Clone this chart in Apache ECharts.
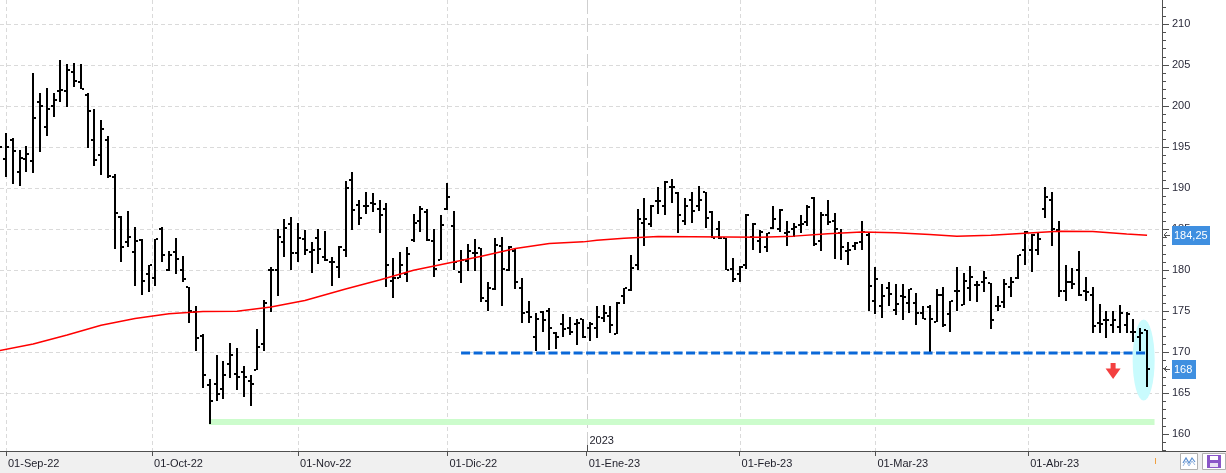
<!DOCTYPE html>
<html>
<head>
<meta charset="utf-8">
<script src="https://cdn.jsdelivr.net/npm/echarts@6.0.0/dist/echarts.min.js"></script>
<style>
html, body { margin: 0; padding: 0; background: #fff; }
#chart { width: 1226px; height: 473px; }
</style>
</head>
<body>
<div id="chart"></div>
<script>
// posicion de cada sesion: 0 = 31-Ago-22, 1 = 01-Sep-22 ... 169 = ultima sesion
var opens = [
  193.0, 193.5, 195.9, 192.0, 193.5, 193.3, 200.5, 197.4, 200.0, 201.8,
  201.8, 204.1, 202.9, 201.3, 195.9, 194.0, 195.9, 191.3, 186.5, 183.4,
  182.2, 183.7, 179.5, 179.1, 185.0, 180.0, 182.2, 180.0, 177.9, 174.9,
  172.0, 166.0, 166.1, 165.5, 168.6, 167.4, 167.6, 166.5, 167.8, 171.0,
  180.0, 180.0, 183.4, 185.6, 182.1, 183.8, 182.2, 183.9, 181.6, 181.0,
  180.4, 182.5, 191.0, 188.0, 187.8, 188.2, 187.4, 187.5, 178.7, 179.1,
  179.5, 183.7, 186.0, 187.1, 183.6, 181.3, 187.4, 185.4, 179.8, 181.1,
  182.1, 182.7, 176.3, 177.7, 183.0, 180.0, 182.3, 177.8, 174.9, 171.9,
  174.9, 175.0, 172.4, 173.5, 173.0, 173.5, 174.1, 172.9, 172.9, 174.2,
  174.4, 172.2, 176.8, 177.6, 180.6, 185.8, 185.6, 188.4, 187.8, 190.1,
  189.4, 186.0, 188.5, 187.8, 189.5, 187.1, 185.0, 183.9, 180.2, 179.5,
  180.6, 184.1, 183.5, 182.8, 185.1, 185.0, 184.5, 185.0, 185.5, 185.9,
  188.8, 183.5, 186.7, 186.0, 184.5, 182.3, 182.9, 183.4, 184.3, 176.2,
  175.6, 177.8, 175.2, 176.8, 176.0, 176.0, 174.8, 175.5, 173.7, 177.0,
  174.7, 177.5, 175.8, 177.8, 178.2, 178.5, 178.4, 175.6, 176.1, 177.9,
  179.0, 182.5, 182.5, 182.5, 187.4, 188.5, 184.9, 177.5, 178.5, 180.0,
  177.5, 177.0, 173.6, 173.9, 173.3, 173.1, 173.3, 172.5, 171.9, 172.7
];
var highs = [
  197.0, 196.7, 196.1, 194.6, 195.1, 204.0, 201.6, 202.2, 201.6, 205.6,
  205.1, 205.3, 205.1, 201.6, 199.6, 198.3, 196.3, 191.7, 186.6, 187.2,
  185.3, 183.8, 180.6, 183.8, 185.3, 182.3, 183.9, 181.7, 178.0, 175.6,
  172.2, 166.8, 169.7, 168.9, 171.1, 170.5, 168.3, 167.2, 172.8, 176.4,
  180.4, 185.0, 186.2, 186.5, 185.7, 184.9, 183.4, 185.0, 184.8, 181.6,
  182.9, 190.9, 192.0, 188.6, 189.5, 189.4, 188.6, 188.2, 181.5, 182.2,
  182.8, 186.9, 187.8, 187.5, 185.0, 186.7, 190.6, 187.2, 182.5, 183.2,
  183.8, 182.7, 178.5, 183.9, 184.1, 183.0, 182.7, 179.0, 176.3, 174.8,
  175.0, 175.4, 172.5, 174.6, 174.3, 174.0, 174.1, 173.7, 175.6, 175.8,
  175.6, 176.1, 177.8, 181.9, 187.5, 188.8, 188.0, 190.1, 190.9, 191.1,
  189.5, 188.8, 189.5, 190.3, 189.5, 187.2, 186.0, 183.9, 181.5, 180.5,
  186.9, 185.7, 184.9, 184.5, 187.8, 187.4, 186.0, 185.7, 186.7, 188.0,
  188.9, 187.1, 188.6, 187.0, 185.0, 183.4, 183.4, 186.0, 184.5, 180.4,
  178.3, 178.5, 178.3, 178.3, 177.7, 177.2, 175.6, 175.7, 177.7, 177.9,
  176.2, 180.4, 179.6, 180.5, 178.7, 179.9, 178.4, 176.9, 178.9, 179.2,
  181.9, 184.8, 184.4, 184.7, 190.1, 189.5, 186.0, 180.6, 180.3, 182.3,
  179.2, 177.9, 175.9, 175.0, 175.0, 175.8, 174.9, 174.1, 172.9, 172.7
];
var lows = [
  190.5, 191.3, 190.5, 190.2, 192.0, 191.8, 194.4, 196.4, 198.7, 200.5,
  199.9, 202.3, 202.1, 194.9, 192.7, 191.6, 191.2, 182.6, 181.0, 182.8,
  178.1, 177.0, 177.3, 178.1, 181.0, 179.9, 179.5, 178.5, 173.6, 170.1,
  165.7, 161.3, 164.1, 164.3, 166.9, 165.4, 164.5, 163.5, 167.8, 170.1,
  174.9, 176.8, 181.6, 180.0, 181.0, 181.9, 179.6, 180.8, 181.1, 178.1,
  179.0, 181.6, 184.9, 185.5, 186.9, 187.1, 184.5, 178.0, 176.6, 179.1,
  178.6, 183.4, 184.7, 183.6, 179.2, 181.3, 187.3, 180.0, 178.4, 179.9,
  179.9, 176.1, 175.0, 177.6, 175.6, 179.9, 177.7, 173.6, 173.6, 170.2,
  172.5, 170.3, 170.4, 171.9, 172.1, 170.9, 171.7, 171.4, 171.7, 173.7,
  172.3, 172.2, 175.9, 177.5, 180.0, 183.0, 185.3, 186.8, 186.7, 188.2,
  184.5, 185.5, 185.7, 187.2, 185.1, 183.9, 183.8, 180.0, 178.5, 178.5,
  180.2, 182.4, 182.1, 182.2, 185.0, 184.7, 183.0, 184.0, 184.5, 185.4,
  183.0, 182.3, 185.5, 181.4, 181.3, 180.6, 182.5, 182.5, 175.0, 174.6,
  174.2, 175.6, 174.5, 173.9, 174.8, 173.3, 174.1, 170.0, 173.7, 173.1,
  172.5, 175.0, 175.8, 176.3, 176.1, 177.3, 172.8, 175.0, 175.4, 176.7,
  178.9, 180.6, 179.8, 181.9, 186.3, 183.0, 176.7, 176.2, 177.7, 176.8,
  176.2, 172.3, 172.3, 171.7, 172.4, 172.4, 172.3, 171.3, 170.1, 165.8
];
var closes = [
  195.0, 195.0, 194.5, 193.7, 194.2, 198.5, 200.0, 199.6, 200.7, 201.9,
  204.4, 203.1, 202.1, 199.4, 193.4, 197.2, 191.5, 187.0, 182.8, 184.1,
  183.6, 178.7, 180.6, 183.8, 181.9, 181.9, 181.4, 178.9, 175.0, 171.7,
  167.2, 164.0, 164.9, 167.2, 169.7, 167.0, 167.0, 166.1, 170.6, 176.0,
  180.0, 184.0, 185.1, 182.1, 183.9, 182.5, 182.5, 182.6, 181.3, 181.0,
  182.8, 190.0, 187.3, 186.4, 187.8, 188.1, 186.7, 180.6, 179.0, 180.6,
  182.0, 185.8, 187.5, 183.7, 180.2, 185.5, 188.9, 181.0, 181.3, 182.3,
  182.1, 176.6, 177.8, 183.1, 180.2, 182.8, 178.6, 174.8, 174.3, 174.1,
  173.9, 172.9, 171.9, 172.8, 172.5, 173.6, 171.8, 173.5, 174.3, 174.8,
  173.3, 176.0, 177.8, 180.3, 186.2, 186.2, 187.8, 188.4, 190.8, 190.1,
  186.7, 187.8, 187.2, 188.6, 186.3, 183.9, 183.9, 180.0, 178.9, 180.4,
  186.7, 185.6, 184.7, 184.5, 186.2, 187.3, 184.7, 185.3, 185.6, 187.7,
  183.2, 186.7, 185.9, 185.0, 182.8, 182.5, 183.3, 184.6, 178.1, 178.9,
  176.8, 177.1, 175.9, 176.7, 177.7, 174.8, 174.1, 174.0, 177.0, 173.3,
  176.2, 177.5, 178.7, 179.2, 178.2, 179.1, 173.9, 175.6, 178.3, 178.6,
  181.9, 184.7, 184.3, 183.8, 188.9, 185.0, 177.5, 178.5, 178.3, 177.0,
  177.3, 173.2, 173.5, 173.9, 173.9, 174.8, 174.7, 172.5, 172.3, 167.9
];

// media movil (roja), leida a tramos
var maPos  = [0, 5, 10, 15, 20, 25, 30, 35, 40, 45, 51, 56, 61, 66, 71, 76, 81, 86, 88, 92,
              97, 107, 112, 117, 122, 127, 132, 137, 141, 146, 151, 156, 161, 166, 169];
var maVals = [170.2, 171.0, 172.1, 173.3, 174.1, 174.7, 174.95, 175.0, 175.5, 176.3, 177.7, 178.8,
              180.0, 180.85, 181.7, 182.65, 183.25, 183.45, 183.65, 183.9, 184.1, 184.05, 184.0,
              184.15, 184.45, 184.65, 184.55, 184.35, 184.15, 184.25, 184.5, 184.75, 184.7, 184.4, 184.25];

var monthPos = [1, 22.5, 44, 66, 86.5, 109, 129, 151.5];
var monthLabels = ['01-Sep-22', '01-Oct-22', '01-Nov-22', '01-Dic-22', '01-Ene-23', '01-Feb-23', '01-Mar-23', '01-Abr-23'];
var yearPos = 86.5;
var yearLabel = '2023';

var priceTicks = [160, 165, 170, 175, 180, 185, 190, 195, 200, 205, 210];
var gridPrices = [165, 170, 175, 180, 185, 190, 195, 200, 205, 210];

var supportLine = [[68, 169.9], [168.95, 169.9]];
var lowLine = [[30.9, 161.5], [170.1, 161.5]];
var arrowPoint = [[164, 167.7]];
var highlightPoint = [[168.5, 169.05]];
var maLast = 184.25, maLastText = '184,25';
var lastClose = 168, lastCloseText = '168';

var FONT = "'Liberation Sans', Arial, sans-serif";
var xMin = 0.1166, xMax = 171.2;
var yMin = 157.965, yMax = 212.925;

var bars = [];
for (var i = 0; i < opens.length; i++) {
    bars.push([i, opens[i], highs[i], lows[i], closes[i]]);
}
var maData = [];
for (var j = 0; j < maPos.length; j++) {
    maData.push([maPos[j], maVals[j]]);
}
var minorTicks = [];
for (var t = 158; t <= 212; t++) minorTicks.push(t);

function renderBar(params, api) {
    var p = api.value(0);
    var hi = api.coord([p, api.value(2)]);
    var lo = api.coord([p, api.value(3)]);
    var op = api.coord([p, api.value(1)]);
    var cl = api.coord([p, api.value(4)]);
    var cx = Math.round(hi[0]);
    return {
        type: 'group',
        children: [
            {type: 'rect', shape: {x: cx - 1, y: Math.round(hi[1]), width: 2, height: Math.max(1, Math.round(lo[1]) - Math.round(hi[1]))}, style: {fill: '#000'}},
            {type: 'rect', shape: {x: cx - 3, y: Math.round(op[1]) - 1, width: 2, height: 2}, style: {fill: '#000'}},
            {type: 'rect', shape: {x: cx + 1, y: Math.round(cl[1]) - 1, width: 2, height: 2}, style: {fill: '#000'}}
        ]
    };
}
function renderHGrid(params, api) {
    var cs = params.coordSys;
    var y = Math.round(api.coord([xMin, api.value(1)])[1]) + 0.5;
    return {type: 'line', shape: {x1: cs.x, y1: y, x2: cs.x + cs.width, y2: y},
        style: {stroke: '#dadada', lineWidth: 1, lineDash: [4, 3]}};
}
function renderVGrid(params, api) {
    var cs = params.coordSys;
    var p = api.value(0);
    var x = Math.round(api.coord([p, yMin])[0]) + 0.5;
    var isYear = p === yearPos;
    return {type: 'line', shape: {x1: x, y1: cs.y, x2: x, y2: cs.y + cs.height},
        style: {stroke: isYear ? '#cfcfcf' : '#dadada', lineWidth: 1, lineDash: isYear ? [14, 4] : [4, 3]}};
}

var chart = echarts.init(document.getElementById('chart'));
var option = {
    animation: false,
    backgroundColor: '#fff',
    grid: {left: 0, right: 64, top: 0, bottom: 22},
    xAxis: {
        type: 'value', min: xMin, max: xMax, z: 3,
        axisLine: {show: true, lineStyle: {color: '#505050', width: 1}},
        axisTick: {show: true, customValues: monthPos, length: 5, lineStyle: {color: '#505050'}},
        axisLabel: {
            customValues: monthPos, align: 'left', margin: 7, padding: [0, 0, 0, 2],
            color: '#1f1f2a', fontSize: 11, fontFamily: FONT,
            formatter: function (v) {
                for (var k = 0; k < monthPos.length; k++) {
                    if (Math.abs(monthPos[k] - v) < 0.01) return monthLabels[k];
                }
                return '';
            }
        },
        splitLine: {show: false}
    },
    yAxis: [{
        type: 'value', position: 'right', min: yMin, max: yMax, z: 3,
        axisLine: {show: true, lineStyle: {color: '#505050', width: 1}},
        axisTick: {show: true, customValues: priceTicks, length: 7, lineStyle: {color: '#505050'}},
        axisLabel: {customValues: priceTicks, margin: 10, color: '#2a2a3a', fontSize: 11, fontFamily: FONT},
        splitLine: {show: false}
    }, {
        type: 'value', position: 'right', min: yMin, max: yMax,
        axisLine: {show: false},
        axisTick: {show: true, customValues: minorTicks, length: 4, lineStyle: {color: '#505050'}},
        axisLabel: {show: false},
        splitLine: {show: false}
    }],
    series: [
        {type: 'custom', name: 'hgrid', silent: true, z: 0, renderItem: renderHGrid,
            data: gridPrices.map(function (v) { return [xMin, v]; }), encode: {x: 0, y: 1}},
        {type: 'custom', name: 'vgrid', silent: true, z: 0, renderItem: renderVGrid,
            data: monthPos.map(function (p) { return [p, yMin]; }), encode: {x: 0, y: 1}},
        {type: 'scatter', name: 'highlight', silent: true, z: 1, data: highlightPoint,
            symbol: 'circle', symbolSize: [22, 81], itemStyle: {color: '#c9fbfd', opacity: 1}},
        {type: 'line', name: 'minimo', silent: true, z: 1, data: lowLine, showSymbol: false, symbol: 'none',
            lineStyle: {color: '#ccfccc', width: 6}},
        {type: 'custom', name: 'precio', z: 2, renderItem: renderBar, data: bars,
            encode: {x: 0, y: [1, 2, 3, 4]}},
        {type: 'line', name: 'media', silent: true, z: 4, data: maData, showSymbol: false, symbol: 'none',
            lineStyle: {color: '#ff0000', width: 1.5}},
        {type: 'line', name: 'soporte', silent: true, z: 5, data: supportLine, showSymbol: false, symbol: 'none',
            lineStyle: {color: '#0a68d8', width: 3, type: [9, 3.5]}},
        {type: 'scatter', name: 'flecha', silent: true, z: 6, data: arrowPoint,
            symbol: 'path://M5,0 L10,0 L10,5 L15,5 L7.5,15 L0,5 L5,5 Z', symbolSize: [15, 16],
            itemStyle: {color: '#f01010'}}
    ]
};
chart.setOption(option);

function valueTag(id, value, text, w) {
    var y = Math.round(chart.convertToPixel({yAxisIndex: 0}, value));
    return [
        {type: 'rect', id: id + 'b', z: 20, shape: {x: 1172, y: y - 9, width: w, height: 19}, style: {fill: '#3f8fe0'}},
        {type: 'text', id: id + 't', z: 21, x: 1174, y: y + 1,
            style: {text: text, fill: '#fff', font: '11px ' + FONT, align: 'left', verticalAlign: 'middle'}},
        {type: 'polyline', id: id + 'a', z: 21, shape: {points: [[1167, y - 3], [1164, y], [1167, y + 3]]},
            style: {stroke: '#555', lineWidth: 1, fill: null}},
        {type: 'line', id: id + 'l', z: 21, shape: {x1: 1164, y1: y + 0.5, x2: 1170, y2: y + 0.5},
            style: {stroke: '#555', lineWidth: 1}}
    ];
}

var yearX = Math.round(chart.convertToPixel({xAxisIndex: 0}, yearPos)) + 0.5;
var graphics = [
    {type: 'rect', id: 'band', z: -1, shape: {x: 0, y: 452, width: 1226, height: 21}, style: {fill: '#f0f0f0'}},
    {type: 'line', id: 'axisExt', z: 5, shape: {x1: 1162, y1: 451.5, x2: 1226, y2: 451.5}, style: {stroke: '#505050', lineWidth: 1}},
    {type: 'line', id: 'yearTick', z: 5, shape: {x1: yearX, y1: 445, x2: yearX, y2: 451}, style: {stroke: '#505050', lineWidth: 1}},
    {type: 'text', id: 'yearText', z: 5, x: yearX + 2, y: 441,
        style: {text: yearLabel, fill: '#1f1f2a', font: '11px ' + FONT, align: 'left', verticalAlign: 'middle'}},
    {type: 'line', id: 'nowTick', z: 5, shape: {x1: 1155.5, y1: 458, x2: 1155.5, y2: 464}, style: {stroke: '#f0a040', lineWidth: 1}},
    {type: 'rect', id: 'btn1', z: 5, shape: {x: 1180.5, y: 453.5, width: 17, height: 16}, style: {fill: '#fff', stroke: '#b0b0b0', lineWidth: 1}},
    {type: 'polyline', id: 'btn1i', z: 6, shape: {points: [[1183, 463], [1186, 458], [1189, 463], [1192, 458], [1195, 462]]},
        style: {stroke: '#5b8fd0', lineWidth: 1.2, fill: null}},
    {type: 'polyline', id: 'btn1j', z: 6, shape: {points: [[1183, 466], [1186, 461], [1189, 466], [1192, 461], [1195, 465]]},
        style: {stroke: '#9ab8e0', lineWidth: 1, fill: null}},
    {type: 'rect', id: 'btn2', z: 5, shape: {x: 1202.5, y: 453.5, width: 23, height: 16}, style: {fill: '#fff', stroke: '#b0b0b0', lineWidth: 1}},
    {type: 'rect', id: 'disk', z: 6, shape: {x: 1207, y: 455, width: 14, height: 13}, style: {fill: '#8a56c8'}},
    {type: 'rect', id: 'diskA', z: 7, shape: {x: 1210, y: 456, width: 8, height: 4}, style: {fill: '#fff'}},
    {type: 'rect', id: 'diskB', z: 7, shape: {x: 1210, y: 463, width: 8, height: 4}, style: {fill: '#e8e0f4'}}
];
graphics = graphics.concat(valueTag('ma', maLast, maLastText, 38), valueTag('last', lastClose, lastCloseText, 24));
chart.setOption({graphic: graphics});
</script>
</body>
</html>
